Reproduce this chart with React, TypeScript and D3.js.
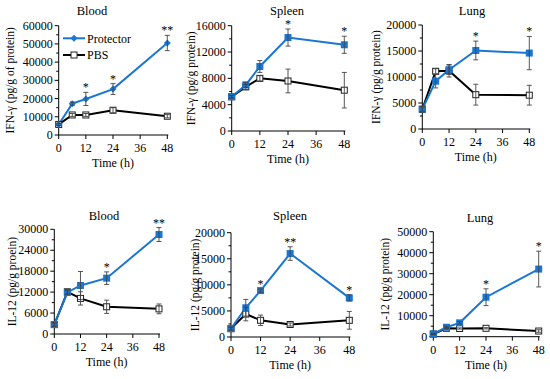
import React from 'react';
import * as d3 from 'd3';

const times = [0, 6, 12, 24, 48];
const xTicks = [0, 12, 24, 36, 48];

// IFN-gamma
const bloodIfnProt = [5800, 17200, 19800, 25200, 50500];
const bloodIfnProtErr = [600, 900, 3600, 3000, 4200];
const bloodIfnPbs = [5800, 11000, 11000, 13600, 10300];
const bloodIfnPbsErr = [600, 800, 800, 1400, 900];
const bloodIfnStars = ['', '', '*', '*', '**'];

const spleenIfnProt = [5200, 7000, 9800, 14200, 13100];
const spleenIfnProtErr = [200, 400, 900, 1300, 1300];
const spleenIfnPbs = [5200, 6700, 8000, 7600, 6200];
const spleenIfnPbsErr = [200, 400, 400, 1800, 2700];
const spleenIfnStars = ['', '', '', '*', '*'];

const lungIfnProt = [3800, 9200, 11400, 15100, 14600];
const lungIfnProtErr = [500, 1300, 900, 1800, 3200];
const lungIfnPbs = [3800, 11100, 11200, 6600, 6500];
const lungIfnPbsErr = [500, 500, 1200, 2000, 1900];
const lungIfnStars = ['', '', '', '*', '*'];

// IL-12
const bloodIlProt = [2700, 11900, 13900, 16000, 28500];
const bloodIlProtErr = [500, 600, 4000, 1800, 2000];
const bloodIlPbs = [2700, 12100, 10200, 7800, 7200];
const bloodIlPbsErr = [500, 600, 1900, 1900, 1400];
const bloodIlStars = ['', '', '', '*', '**'];

const spleenIlProt = [1600, 5600, 8900, 16000, 7500];
const spleenIlProtErr = [300, 1600, 300, 1300, 600];
const spleenIlPbs = [1600, 4400, 3200, 2400, 3200];
const spleenIlPbsErr = [300, 1300, 1000, 300, 1700];
const spleenIlStars = ['', '', '*', '**', '*'];

const lungIlProt = [1300, 4500, 6600, 18800, 32200];
const lungIlProtErr = [300, 500, 600, 4000, 8500];
const lungIlPbs = [1300, 4000, 3900, 4000, 2700];
const lungIlPbsErr = [300, 300, 300, 300, 600];
const lungIlStars = ['', '', '', '*', '*'];

const BLUE = '#1b76d1';
const FONT = "'Liberation Serif', 'Times New Roman', serif";

type Panel = {
  title: string;
  ylabel: string;
  ymax: number;
  step: number;
  prot: number[];
  protErr: number[];
  pbs: number[];
  pbsErr: number[];
  stars: string[];
  diamond?: boolean;
  legend?: boolean;
  // layout
  x0: number;
  x1: number;
  yTop: number;
  yBot: number;
  titleX: number;
  titleY: number;
  labelX: number;
};

const panels: Panel[] = [
  { title: 'Blood', ylabel: 'IFN-γ (pg/g of protein)', ymax: 60000, step: 10000,
    prot: bloodIfnProt, protErr: bloodIfnProtErr, pbs: bloodIfnPbs, pbsErr: bloodIfnPbsErr, stars: bloodIfnStars,
    diamond: true, legend: true,
    x0: 58.7, x1: 167.3, yTop: 25.7, yBot: 135, titleX: 92, titleY: 15, labelX: 14 },
  { title: 'Spleen', ylabel: 'IFN-γ (pg/g protein)', ymax: 16000, step: 4000,
    prot: spleenIfnProt, protErr: spleenIfnProtErr, pbs: spleenIfnPbs, pbsErr: spleenIfnPbsErr, stars: spleenIfnStars,
    x0: 231.7, x1: 344.3, yTop: 25.7, yBot: 131, titleX: 287, titleY: 15, labelX: 195 },
  { title: 'Lung', ylabel: 'IFN-γ (pg/g protein)', ymax: 20000, step: 5000,
    prot: lungIfnProt, protErr: lungIfnProtErr, pbs: lungIfnPbs, pbsErr: lungIfnPbsErr, stars: lungIfnStars,
    x0: 422.3, x1: 529.3, yTop: 25, yBot: 129, titleX: 472, titleY: 15, labelX: 380 },
  { title: 'Blood', ylabel: 'IL-12 (pg/g proein)', ymax: 30000, step: 6000,
    prot: bloodIlProt, protErr: bloodIlProtErr, pbs: bloodIlPbs, pbsErr: bloodIlPbsErr, stars: bloodIlStars,
    x0: 54.3, x1: 159, yTop: 229.3, yBot: 334, titleX: 104, titleY: 220, labelX: 16 },
  { title: 'Spleen', ylabel: 'IL-12 (pg/g protein)', ymax: 20000, step: 5000,
    prot: spleenIlProt, protErr: spleenIlProtErr, pbs: spleenIlPbs, pbsErr: spleenIlPbsErr, stars: spleenIlStars,
    x0: 231, x1: 349.3, yTop: 232.7, yBot: 337, titleX: 290, titleY: 220, labelX: 199 },
  { title: 'Lung', ylabel: 'IL-12 (pg/g protein)', ymax: 50000, step: 10000,
    prot: lungIlProt, protErr: lungIlProtErr, pbs: lungIlPbs, pbsErr: lungIlPbsErr, stars: lungIlStars,
    x0: 433.3, x1: 538.7, yTop: 231.7, yBot: 336.7, titleX: 480, titleY: 222, labelX: 389 },
];

const Diamond = ({ cx, cy, r }: { cx: number; cy: number; r: number }) => (
  <path d={`M${cx},${cy - r}L${cx + r},${cy}L${cx},${cy + r}L${cx - r},${cy}Z`} fill={BLUE} />
);

const ChartPanel = ({ p }: { p: Panel }) => {
  const x = d3.scaleLinear().domain([0, 48]).range([p.x0, p.x1]);
  const y = d3.scaleLinear().domain([0, p.ymax]).range([p.yBot, p.yTop]);
  const majors = d3.range(0, p.ymax + 1, p.step);
  const minors = d3.range(p.step / 2, p.ymax, p.step);
  const line = d3.line<number>().x((_, i) => x(times[i])).y(d => y(d));

  const errBars = (vals: number[], errs: number[], key: string) =>
    vals.map((v, i) => {
      const cx = x(times[i]);
      const t = y(v + errs[i]);
      const b = y(Math.max(0, v - errs[i]));
      return (
        <g key={key + i} stroke="#444" strokeWidth={0.9}>
          <line x1={cx} x2={cx} y1={t} y2={b} />
          <line x1={cx - 2.5} x2={cx + 2.5} y1={t} y2={t} />
          <line x1={cx - 2.5} x2={cx + 2.5} y1={b} y2={b} />
        </g>
      );
    });

  return (
    <g fontFamily={FONT} fill="#000">
      <text x={p.titleX} y={p.titleY} textAnchor="middle" fontSize={12.5}>{p.title}</text>
      {/* y axis */}
      <line x1={p.x0} x2={p.x0} y1={p.yTop} y2={p.yBot} stroke="#000" strokeWidth={1} />
      {majors.map(v => (
        <g key={'M' + v}>
          <line x1={p.x0 - 4} x2={p.x0} y1={y(v)} y2={y(v)} stroke="#000" />
          <text x={p.x0 - 6} y={y(v) + 4} textAnchor="end" fontSize={12}>{v}</text>
        </g>
      ))}
      {minors.map(v => (
        <line key={'m' + v} x1={p.x0 - 2.5} x2={p.x0} y1={y(v)} y2={y(v)} stroke="#000" />
      ))}
      {/* x axis */}
      <line x1={p.x0} x2={p.x1 + 1} y1={p.yBot} y2={p.yBot} stroke="#000" strokeWidth={1} />
      {xTicks.map(t => (
        <g key={'x' + t}>
          <line x1={x(t)} x2={x(t)} y1={p.yBot} y2={p.yBot + 4} stroke="#000" />
          <text x={x(t)} y={p.yBot + 17} textAnchor="middle" fontSize={12}>{t}</text>
        </g>
      ))}
      <text x={(p.x0 + p.x1) / 2} y={p.yBot + 32} textAnchor="middle" fontSize={12}>Time (h)</text>
      <text transform={`translate(${p.labelX},${(p.yTop + p.yBot) / 2}) rotate(-90)`} textAnchor="middle" fontSize={11.5}>{p.ylabel}</text>
      {/* lines */}
      <path d={line(p.pbs) || ''} fill="none" stroke="#000" strokeWidth={2} />
      <path d={line(p.prot) || ''} fill="none" stroke={BLUE} strokeWidth={2} />
      {/* markers */}
      {p.pbs.map((v, i) => (
        <rect key={'pb' + i} x={x(times[i]) - 3} y={y(v) - 3} width={6} height={6} fill="#fff" stroke="#222" strokeWidth={1} />
      ))}
      {p.prot.map((v, i) =>
        p.diamond
          ? <Diamond key={'pr' + i} cx={x(times[i])} cy={y(v)} r={3.5} />
          : <rect key={'pr' + i} x={x(times[i]) - 3.5} y={y(v) - 3.5} width={7} height={7} fill={BLUE} />
      )}
      {errBars(p.pbs, p.pbsErr, 'eb')}
      {errBars(p.prot, p.protErr, 'ep')}
      {p.stars.map((s, i) => s ? (
        <text key={'s' + i} x={x(times[i])} y={y(p.prot[i] + p.protErr[i]) - 1} textAnchor="middle" fontSize={12}>{s}</text>
      ) : null)}
      {p.legend && (
        <g>
          <line x1={63} x2={85} y1={38.3} y2={38.3} stroke={BLUE} strokeWidth={2} />
          <Diamond cx={74} cy={38.3} r={3.5} />
          <text x={87} y={42.5} fontSize={12}>Protector</text>
          <line x1={63} x2={85} y1={55} y2={55} stroke="#000" strokeWidth={2} />
          <rect x={71} y={52} width={6} height={6} fill="#fff" stroke="#222" />
          <text x={87} y={59.2} fontSize={12}>PBS</text>
        </g>
      )}
    </g>
  );
};

export default function App() {
  return (
    <div style={{ position: 'absolute', left: 0, top: 0 }}>
      <svg width={550} height={379} style={{ display: 'block', background: '#fff' }}>
        {panels.map((p, i) => <ChartPanel key={i} p={p} />)}
      </svg>
    </div>
  );
}
